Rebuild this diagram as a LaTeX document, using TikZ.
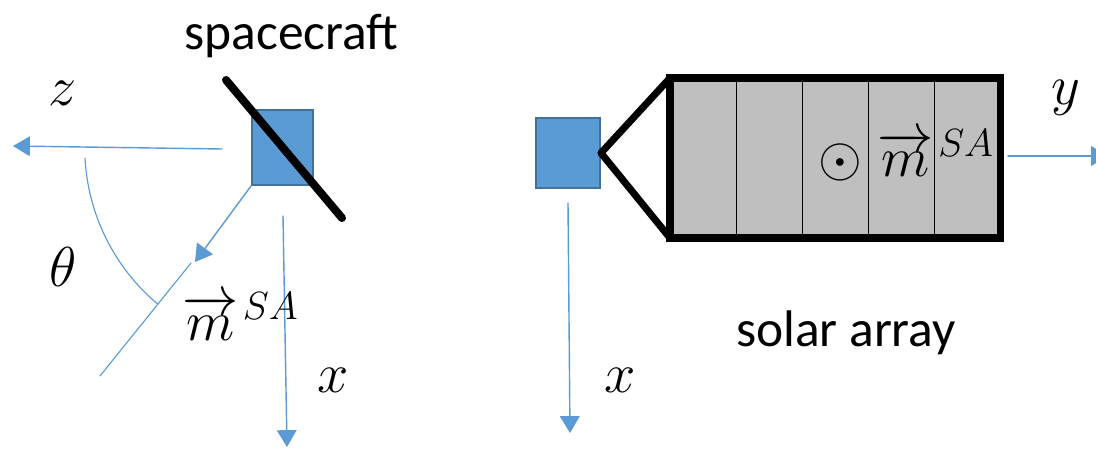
\RequirePackage{fix-cm}
\documentclass[tikz,border=0pt]{standalone}
\usepackage{amsmath}
\usepackage{tkz-euclide}
\usepackage{fontspec}
\setmainfont{Carlito}
\usetikzlibrary{arrows.meta}
\definecolor{scblue}{HTML}{5B9BD5}
\definecolor{scedge}{HTML}{41719C}
\definecolor{panelgray}{HTML}{BFBFBF}
\tikzset{
  axis/.style={draw=scblue,line width=1pt,-{Triangle[length=12pt,width=14pt]}},
  body/.style={draw=scedge,fill=scblue,line width=1.4pt,inner sep=0pt},
  lbl/.style={font=\fontsize{40}{48}\selectfont},
  txt/.style={font=\fontsize{36.6}{44}\selectfont}
}

\begin{document}
\begin{tikzpicture}
		\clip (0,0) rectangle (27.4,11.2);
		\fill[white] (0,0) rectangle (27.4,11.2);
		% spacecraft view
		\tkzDefPoint(5.55,7.475){z_{o}}\tkzDefPoint(0.325,7.55){z_{t}}
		\tkzDefPoint(7.075,5.8){x_{o}}\tkzDefPoint(7.175,0.025){x_{t}}
		\tkzDefPoint(4.875,4.65){m_{t}}
		\tkzDefPoint(4.775,4.625){l_{a}}\tkzDefPoint(2.5,1.8){l_{b}}
		\tkzDefPoint(5.65,9.2){b_{a}}\tkzDefPoint(8.55,5.75){b_{b}}
		\tkzDefPoint(2.125,7.25){a_{s}}
		\node[body,minimum width=1.525cm,minimum height=1.875cm] (sc) at (7.0625,7.5125) {};
		\tkzDrawSegments[axis](z_{o},z_{t} x_{o},x_{t})
		\draw[axis] (sc.south west) -- (m_{t});
		\tkzDrawSegment[draw=scblue,line width=0.8pt](l_{a},l_{b})
		\draw[scblue,line width=0.8pt] (a_{s}) arc[start angle=183,end angle=230,radius=5.125];
		\tkzDrawSegment[line width=5.7pt](b_{a},b_{b})
		\node[txt,anchor=base] (lsc) at (7.2875,9.95) {spacecraft};
		\node[lbl] (lz) at (1.575,8.875) {$z$};
		\node[lbl] (lth) at (1.575,4.525) {$\theta$};
		\node[lbl,anchor=base west,inner sep=0pt] (lm) at (4.55,2.7) {$\overrightarrow{m}^{\mkern2mu SA}$};
		\node[lbl] (lx) at (8.325,1.7) {$x$};
		% solar array view
		\tkzDefPoint(16.75,5.25){r_{1}}\tkzDefPoint(16.75,9.25){r_{2}}
		\tkzDefPoint(25,9.25){r_{3}}\tkzDefPoint(25,5.25){r_{4}}
		\tkzDefPoint(18.4,9.25){d_{1}}\tkzDefPoint(18.4,5.25){e_{1}}
		\tkzDefPoint(20.05,9.25){d_{2}}\tkzDefPoint(20.05,5.25){e_{2}}
		\tkzDefPoint(21.7,9.25){d_{3}}\tkzDefPoint(21.7,5.25){e_{3}}
		\tkzDefPoint(23.35,9.25){d_{4}}\tkzDefPoint(23.35,5.25){e_{4}}
		\tkzDefPoint(25.2,7.3){y_{o}}\tkzDefPoint(27.7,7.3){y_{t}}
		\tkzDefPoint(14.2,6.125){X_{o}}\tkzDefPoint(14.25,0.375){X_{t}}
		\node[body,minimum width=1.6cm,minimum height=1.75cm] (sa) at (14.2,7.375) {};
		\draw[fill=panelgray,line width=5pt] (r_{1}) rectangle (r_{3});
		\tkzDrawSegments[line width=0.7pt](d_{1},e_{1} d_{2},e_{2} d_{3},e_{3} d_{4},e_{4})
		\draw[line width=5pt,line join=round] (r_{2}) -- (sa.east) -- (r_{1});
		\tkzDrawSegments[axis](y_{o},y_{t} X_{o},X_{t})
		\node[lbl,anchor=base west,inner sep=0pt] (lmA) at (20.45,6.78) {$\odot\;\overrightarrow{m}^{\mkern2mu SA}$};
		\node[lbl] (ly) at (26.65,8.75) {$y$};
		\node[lbl] (lX) at (15.5,1.7) {$x$};
		\node[txt,anchor=base] (lsa) at (21.15,2.525) {solar array};
	\end{tikzpicture}
\end{document}
